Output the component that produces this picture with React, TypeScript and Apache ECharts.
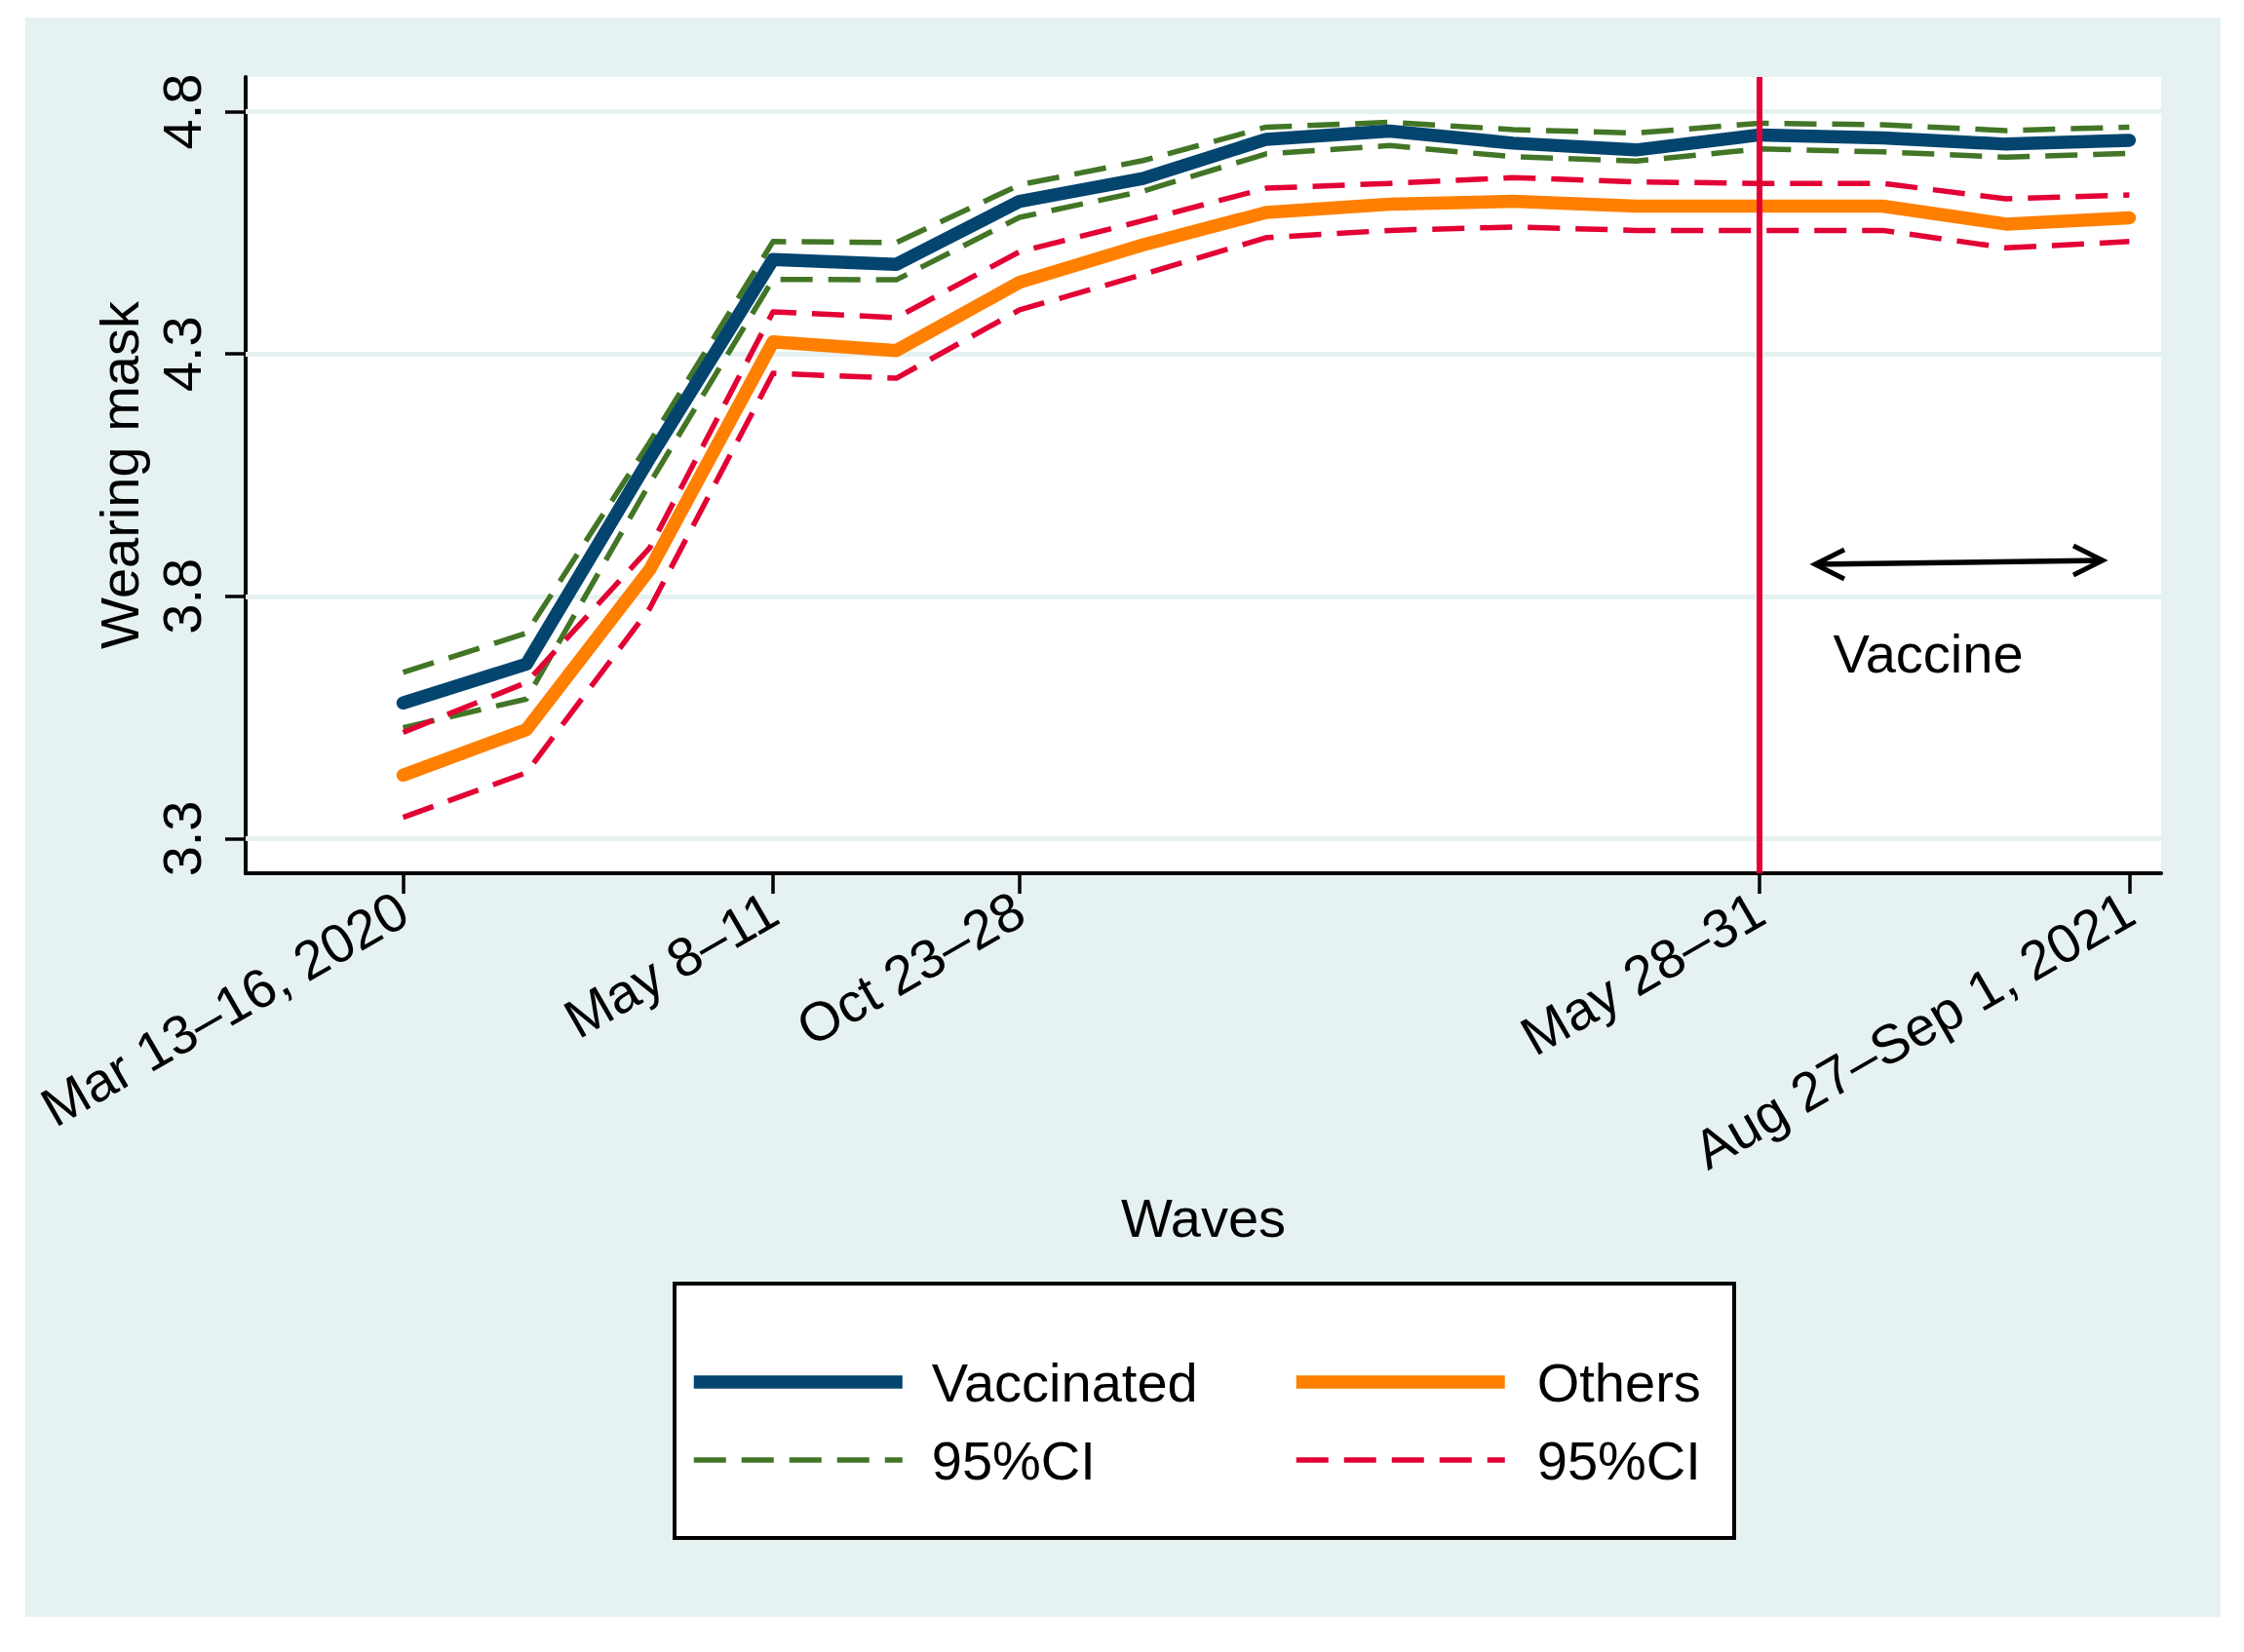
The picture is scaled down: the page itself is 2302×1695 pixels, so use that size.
import { useEffect, useRef } from 'react';
import * as echarts from 'echarts';

// survey waves (equally spaced index on the x axis)
const waves = [0, 1, 2, 3, 4, 5, 6, 7, 8, 9, 10, 11, 12, 13, 14];

const vaccinated = [3.580, 3.660, 4.085, 4.495, 4.485, 4.615, 4.662, 4.743, 4.760, 4.735, 4.721, 4.752, 4.746, 4.733, 4.741];
const vaccinatedUpper = [3.643, 3.724, 4.118, 4.532, 4.530, 4.649, 4.699, 4.768, 4.778, 4.763, 4.756, 4.776, 4.773, 4.761, 4.768];
const vaccinatedLower = [3.529, 3.588, 4.033, 4.454, 4.453, 4.582, 4.636, 4.713, 4.730, 4.707, 4.698, 4.723, 4.717, 4.706, 4.714];

const others = [3.431, 3.525, 3.855, 4.325, 4.307, 4.448, 4.525, 4.592, 4.609, 4.615, 4.605, 4.605, 4.605, 4.568, 4.581];
const othersUpper = [3.519, 3.622, 3.900, 4.387, 4.375, 4.511, 4.575, 4.642, 4.652, 4.664, 4.655, 4.652, 4.652, 4.620, 4.628];
const othersLower = [3.344, 3.436, 3.775, 4.260, 4.250, 4.391, 4.464, 4.540, 4.555, 4.562, 4.555, 4.555, 4.555, 4.519, 4.532];

const xTickValues = [0, 3, 5, 11, 14];
const xTickLabels = ['Mar 13–16, 2020', 'May 8–11', 'Oct 23–28', 'May 28–31', 'Aug 27–Sep 1, 2021'];
const yTickValues = [3.3, 3.8, 4.3, 4.8];
const vaccineWave = 11;

const FONT = '"Liberation Sans", Arial, Helvetica, sans-serif';
const PANEL = '#e6f1f1';
const NAVY = '#03456f';
const ORANGE = '#ff7f00';
const GREEN = '#427626';
const RED = '#e30034';

function lineSeries(name: string, values: number[], color: string, width: number, dashed: boolean, z: number) {
  return {
    type: 'line',
    name,
    data: waves.map((w, i) => [w, values[i]]),
    symbol: 'none',
    showSymbol: false,
    silent: true,
    z,
    itemStyle: { color },
    lineStyle: {
      color,
      width,
      type: dashed ? [33, 16] : 'solid',
      cap: dashed ? 'butt' : 'round',
      join: 'round',
    },
  };
}

export default function App() {
  const chartRef = useRef<HTMLDivElement>(null);

  useEffect(() => {
    if (!chartRef.current) return;
    const chart = echarts.init(chartRef.current, undefined, { renderer: 'svg' });

    const text = { fontFamily: FONT, fontSize: 56, lineHeight: 56, color: '#000' };
    const legendBase = {
      orient: 'vertical',
      top: 1372,
      itemWidth: 214,
      itemHeight: 56,
      itemGap: 24,
      padding: 0,
      selectedMode: false,
      z: 5,
      formatter: (name: string) => (name.endsWith('95%CI') ? '95%CI' : name),
      lineStyle: { width: 'inherit', cap: 'butt' },
      itemStyle: { opacity: 0 },
    };

    const vaccinatedCI = 'Vaccinated 95%CI';
    const othersCI = 'Others 95%CI';

    const upperGreen: any = lineSeries(vaccinatedCI, vaccinatedUpper, GREEN, 5.5, true, 2);
    upperGreen.markLine = {
      silent: true,
      symbol: 'none',
      z: 1,
      label: { show: false },
      lineStyle: { color: PANEL, width: 5, type: 'solid' },
      data: yTickValues.map((v) => ({ yAxis: v })),
    };

    const orangeLine: any = lineSeries('Others', others, ORANGE, 13.5, false, 4);
    orangeLine.markLine = {
      silent: true,
      symbol: 'none',
      z: 10,
      label: { show: false },
      lineStyle: { color: RED, width: 6, type: 'solid' },
      data: [{ xAxis: vaccineWave }],
    };

    const option: any = {
      animation: false,
      backgroundColor: PANEL,
      grid: {
        left: 226,
        top: 61,
        width: 1965,
        height: 817,
        show: true,
        backgroundColor: '#ffffff',
        borderWidth: 0,
      },
      xAxis: {
        type: 'value',
        min: -1.277,
        max: 14.258,
        name: 'Waves',
        nameLocation: 'middle',
        nameGap: 325,
        nameTextStyle: text,
        axisLine: { show: true, onZero: false, lineStyle: { color: '#000', width: 4 } },
        axisTick: { show: true, length: 21, customValues: xTickValues, lineStyle: { color: '#000', width: 3.5 } },
        axisLabel: {
          ...text,
          rotate: 30,
          margin: 33,
          customValues: xTickValues,
          formatter: (v: number) => xTickLabels[xTickValues.indexOf(v)] ?? '',
        },
        splitLine: { show: false },
      },
      yAxis: {
        type: 'value',
        min: 3.2285,
        max: 4.8715,
        name: 'Wearing mask',
        nameLocation: 'middle',
        nameRotate: 90,
        nameGap: 102,
        nameTextStyle: text,
        axisLine: { show: true, onZero: false, lineStyle: { color: '#000', width: 4 } },
        axisTick: { show: true, length: 21, customValues: yTickValues, lineStyle: { color: '#000', width: 3.5 } },
        axisLabel: {
          ...text,
          rotate: 90,
          margin: 38,
          customValues: yTickValues,
          formatter: (v: number) => v.toFixed(1),
        },
        splitLine: { show: false },
      },
      legend: [
        { ...legendBase, left: 679, data: ['Vaccinated', vaccinatedCI], textStyle: { ...text, padding: [0, 0, 0, 25] } },
        { ...legendBase, left: 1297, data: ['Others', othersCI], textStyle: { ...text, padding: [0, 0, 0, 28] } },
      ],
      graphic: [
        {
          type: 'rect',
          z: 1,
          shape: { x: 666, y: 1299, width: 1087, height: 261 },
          style: { fill: '#ffffff', stroke: '#000', lineWidth: 4 },
        },
        {
          type: 'line',
          z: 6,
          shape: { x1: 1836, y1: 561, x2: 2131, y2: 557 },
          style: { stroke: '#000', lineWidth: 5.5 },
        },
        {
          type: 'polyline',
          z: 6,
          shape: { points: [[1866, 546], [1836, 561], [1866, 576]] },
          style: { stroke: '#000', lineWidth: 5, fill: 'none', lineJoin: 'miter' },
        },
        {
          type: 'polyline',
          z: 6,
          shape: { points: [[2101, 542], [2131, 557], [2101, 572]] },
          style: { stroke: '#000', lineWidth: 5, fill: 'none', lineJoin: 'miter' },
        },
        {
          type: 'text',
          z: 6,
          x: 1952,
          y: 652,
          style: {
            text: 'Vaccine',
            fontFamily: FONT,
            fontSize: 56,
            fill: '#000',
            align: 'center',
            verticalAlign: 'middle',
          },
        },
      ],
      series: [
        upperGreen,
        lineSeries(vaccinatedCI, vaccinatedLower, GREEN, 5.5, true, 2),
        lineSeries('Vaccinated', vaccinated, NAVY, 13.5, false, 3),
        lineSeries(othersCI, othersUpper, RED, 5.5, true, 2),
        lineSeries(othersCI, othersLower, RED, 5.5, true, 2),
        orangeLine,
      ],
    };

    chart.setOption(option);

    return () => {
      chart.dispose();
    };
  }, []);

  return (
    <div style={{ position: 'fixed', left: 0, top: 0, width: 2302, height: 1695, background: '#ffffff' }}>
      <div
        ref={chartRef}
        style={{ position: 'absolute', left: 26, top: 18, width: 2252, height: 1641 }}
      />
    </div>
  );
}
